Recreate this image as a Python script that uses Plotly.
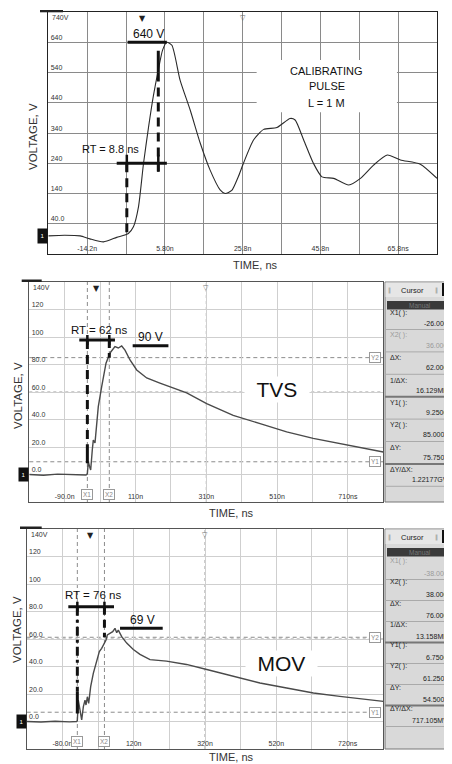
import plotly.graph_objects as go

# The page body keeps its default 8px margin, so the figure is sized to fill the
# remaining 444x756 area of the 452x764 window; PAGE_* are window pixel positions.
PAGE_OFF = 8
W, H = 452 - PAGE_OFF, 764 - PAGE_OFF
FONT = "Liberation Sans, Arial, sans-serif"

# ---------------- Panel 1: calibrating pulse ----------------
cal_t = [-24.2, -20.0, -16.0, -13.5, -10.0, -6.6, -3.6, -2.3, -1.0, 0.3, 1.6, 2.8, 4.1, 5.2,
         6.3, 7.6, 9.7, 12.3, 14.9, 17.4, 20.0, 21.3, 23.0, 24.7, 26.0, 28.6, 31.2, 34.6,
         38.0, 39.3, 41.5, 44.0, 46.2, 49.2, 53.1, 56.1, 59.5, 63.0, 66.4, 71.5, 75.8]
cal_v = [0, 2, 0, -10, -20, -5, 8, 30, 96, 240, 360, 460, 548, 614,
         640, 630, 515, 416, 306, 218, 152, 140, 150, 196, 240, 317, 352, 358,
         388, 383, 317, 240, 195, 190, 168, 190, 234, 267, 251, 237, 190]
cal_x_grid = [-24.2, -14.2, -4.2, 5.8, 15.8, 25.8, 35.8, 45.8, 55.8, 65.8, 75.8]
cal_x_text = ["", "-14.2n", "", "5.80n", "", "25.8n", "", "45.8n", "", "65.8ns", ""]
cal_y_grid = [-60, 40, 140, 240, 340, 440, 540, 640, 740]
cal_y_text = ["", "40.0", "140", "240", "340", "440", "540", "640", ""]
cal_y_top = "740V"
cal_peak = 640
cal_rt = 8.8
cal_t10, cal_t90 = -4.0, 4.1       # rise-time marker positions
cal_label_lines = ["CALIBRATING", "PULSE", "L = 1 M"]

# ---------------- Panel 2: TVS ----------------
tvs_t = [-190, -150, -110, -70, -30, -26, -23.3, -20, -16.6, -12, -9.2, -4.4, 4.9, 14.5,
         26.7, 38, 52, 61.4, 71, 80.3, 94.5, 113.4, 141.6, 179, 207, 254.6, 311, 386,
         462, 537, 612, 688, 744, 810]
tvs_v = [0, -0.5, 0.3, -0.3, -0.4, 0.5, 9.3, 6, 3.3, 18, 25, 23, 49.3, 63.9,
         81, 88.4, 93, 92, 93.5, 90.5, 83.3, 76, 70.2, 66.5, 63.9, 59.3, 51.5, 43,
         37, 31, 26.3, 22.4, 19.5, 16.4]
tvs_x_grid = [-190, -90, 10, 110, 210, 310, 410, 510, 610, 710, 810]
tvs_x_text = ["", "-90.0n", "", "110n", "", "310n", "", "510n", "", "710ns", ""]
tvs_cursor_x = [-26.0, 36.0]
tvs_cursor_y = [9.25, 85.0]
tvs_peak = 90
tvs_values = ["-26.000", "36.000", "62.000", "16.129MH", "9.2500", "85.0000", "75.7500", "1.22177GV"]

# ---------------- Panel 3: MOV ----------------
mov_t = [-180, -140, -100, -60, -40, -38, -35.3, -30.5, -25.8, -21.1, -16.5, -13.7, -9.9, -6.2,
         -0.6, 6.8, 16.2, 23.7, 30.2, 36.8, 42.4, 46.1, 53.6, 61.2, 67.6, 72.4, 76.9, 86.4,
         100.4, 119, 137.7, 165.8, 212, 268, 325, 399, 474, 549, 624, 698, 755, 820]
mov_v = [0, -0.4, 0.2, -0.3, 0, 0.5, 15.6, 8.3, 1.1, 10.8, 15.6, 12, 18, 13.2,
         25.3, 35, 44.7, 50.8, 53.2, 56.9, 59.3, 62.9, 64.1, 65.3, 67.8, 64.6, 66.5, 61.7,
         57, 52.4, 48.8, 45, 43.9, 41.5, 37.8, 33, 28, 24.4, 20.7, 18.3, 16.6, 14.6]
mov_x_grid = [-180, -80, 20, 120, 220, 320, 420, 520, 620, 720, 820]
mov_x_text = ["", "-80.0n", "", "120n", "", "320n", "", "520n", "", "720ns", ""]
mov_cursor_x = [-38.0, 38.0]
mov_cursor_y = [6.75, 61.25]
mov_peak = 69
mov_values = ["-38.000", "38.000", "76.000", "13.158MH", "6.7500", "61.2500", "54.5000", "717.105MV"]

scope_y_grid = [-20, 0, 20, 40, 60, 80, 100, 120, 140]
scope_y_text = ["", "0.0", "20.0", "40.0", "60.0", "80.0", "100", "120", ""]
scope_y_top = "140V"
cursor_labels = ["X1( ):", "X2( ):", "\u0394X:", "1/\u0394X:", "Y1( ):", "Y2( ):", "\u0394Y:", "\u0394Y/\u0394X:"]


def px(x):
    return (x - PAGE_OFF) / W


def py(y):
    return 1 - (y - PAGE_OFF) / H


fig = go.Figure()
fig.add_trace(go.Scatter(x=cal_t, y=cal_v, xaxis="x", yaxis="y", mode="lines",
                         line=dict(color="#2a2a2a", width=1.1, shape="spline", smoothing=0.6),
                         hoverinfo="skip", showlegend=False))
fig.add_trace(go.Scatter(x=tvs_t, y=tvs_v, xaxis="x2", yaxis="y2", mode="lines",
                         line=dict(color="#4a4a4a", width=1.4), hoverinfo="skip", showlegend=False))
fig.add_trace(go.Scatter(x=mov_t, y=mov_v, xaxis="x3", yaxis="y3", mode="lines",
                         line=dict(color="#4a4a4a", width=1.4), hoverinfo="skip", showlegend=False))


def xax(domain, vals, text, anchor, grid, line):
    return dict(domain=domain, range=[vals[0], vals[-1]], tickvals=vals, ticktext=text,
                ticklabelposition="inside", ticks="", showgrid=True, gridcolor=grid, gridwidth=1,
                zeroline=False, showline=True, mirror=True, linecolor=line, linewidth=1.3,
                tickfont=dict(size=7, color="#333", family=FONT), anchor=anchor, fixedrange=True)


def yax(domain, vals, text, anchor, grid, line):
    return dict(domain=domain, range=[vals[0], vals[-1]], tickvals=vals, ticktext=text,
                ticklabelposition="inside top", ticks="", showgrid=True, gridcolor=grid, gridwidth=1,
                zeroline=False, showline=True, mirror=True, linecolor=line, linewidth=1.3,
                tickfont=dict(size=7, color="#333", family=FONT), anchor=anchor, fixedrange=True)


d1x, d1y = [px(48.3), px(437)], [py(254), py(12)]
d2x, d2y = [px(29.3), px(383.3)], [py(502), py(282)]
d3x, d3y = [px(26.7), px(383.3)], [py(749), py(529)]

fig.update_layout(
    width=W, height=H, margin=dict(l=0, r=0, t=0, b=0),
    paper_bgcolor="white", plot_bgcolor="white", showlegend=False,
    font=dict(family=FONT, color="#222"),
    xaxis=xax(d1x, cal_x_grid, cal_x_text, "y", "#8a8a8a", "#222"),
    yaxis=yax(d1y, cal_y_grid, cal_y_text, "x", "#8a8a8a", "#222"),
    xaxis2=xax(d2x, tvs_x_grid, tvs_x_text, "y2", "#cfcfcf", "#555"),
    yaxis2=yax(d2y, scope_y_grid, scope_y_text, "x2", "#cfcfcf", "#555"),
    xaxis3=xax(d3x, mov_x_grid, mov_x_text, "y3", "#cfcfcf", "#555"),
    yaxis3=yax(d3y, scope_y_grid, scope_y_text, "x3", "#cfcfcf", "#555"),
)

shapes = []
ann = []


def ax_names(n):
    return ("x", "y") if n == 1 else (f"x{n}", f"y{n}")


def seg(n, x0, y0, x1, y1, width=3, dash="solid", color="#111"):
    sx, sy = ax_names(n)
    shapes.append(dict(type="line", xref=sx, yref=sy, x0=x0, y0=y0, x1=x1, y1=y1,
                       line=dict(color=color, width=width, dash=dash), layer="above"))


def vline_full(n, x, color, dash, width=1):
    sx, sy = ax_names(n)
    shapes.append(dict(type="line", xref=sx, yref=f"{sy} domain", x0=x, x1=x, y0=0, y1=1,
                       line=dict(color=color, width=width, dash=dash), layer="below"))


def hline_full(n, y, color, dash, width=1):
    sx, sy = ax_names(n)
    shapes.append(dict(type="line", xref=f"{sx} domain", yref=sy, x0=0, x1=1, y0=y, y1=y,
                       line=dict(color=color, width=width, dash=dash), layer="below"))


def text(n, x, y, s, size=11, **kw):
    sx, sy = ax_names(n)
    d = dict(xref=sx, yref=sy, x=x, y=y, text=s, showarrow=False, xanchor="center", yanchor="middle",
             font=dict(size=size, color="#111", family=FONT))
    d.update(kw)
    ann.append(d)


def ptext(x, y, s, size=11, **kw):
    d = dict(xref="paper", yref="paper", x=px(x), y=py(y), text=s, showarrow=False,
             xanchor="center", yanchor="middle",
             font=dict(size=size, color="#333", family=FONT))
    d.update(kw)
    ann.append(d)


def prect(x0, y0, x1, y1, fill, line=None, lw=0):
    shapes.append(dict(type="rect", xref="paper", yref="paper", x0=px(x0), x1=px(x1),
                       y0=py(y1), y1=py(y0), fillcolor=fill,
                       line=dict(color=line or fill, width=lw), layer="above"))


def pline(x0, y0, x1, y1, color, width=1):
    shapes.append(dict(type="line", xref="paper", yref="paper", x0=px(x0), x1=px(x1),
                       y0=py(y0), y1=py(y1), line=dict(color=color, width=width), layer="above"))


# ---------- Panel 1 annotations ----------
shapes.append(dict(type="rect", xref="x", yref="y", x0=29.4, x1=65.5, y0=409, y1=581,
                   fillcolor="white", line=dict(width=0), layer="above"))
seg(1, -3.8, cal_peak, 6.3, cal_peak, 3)
seg(1, -6.6, 240, 6.3, 240, 3)
seg(1, cal_t10, 212, cal_t10, 268, 2.5)
seg(1, cal_t90, 212, cal_t90, 268, 2.5)
seg(1, cal_t10, 240, cal_t10, 5, 3, dash="9px,6px")
seg(1, cal_t90, 612, cal_t90, 540, 3)
seg(1, cal_t90, 540, cal_t90, 212, 3, dash="9px,6px")
text(1, 1.5, 667, f"{cal_peak} V", 12)
text(1, -8.3, 287, f"RT = {cal_rt} ns", 11)
for s, v in zip(cal_label_lines, [546, 495, 440]):
    text(1, 47.4, v, s, 11)
text(1, 0, 740, "\u25BC", 8, yanchor="top", font=dict(size=8, color="#222", family="DejaVu Sans"))
text(1, 25.8, 740, "\u25BD", 7, yanchor="top", font=dict(size=7, color="#666", family="DejaVu Sans"))
ann.append(dict(xref="x domain", yref="y", x=0, y=cal_y_grid[-1], text=cal_y_top, showarrow=False,
                xanchor="left", yanchor="top", xshift=2, font=dict(size=7, color="#333", family=FONT)))
ann.append(dict(xref="x domain", yref="y", x=0, y=0, text="1", showarrow=False, xanchor="right",
                yanchor="middle", bgcolor="#111", width=7, height=12,
                font=dict(size=6, color="white", family=FONT)))
prect(40, 10, 63, 12.3, "#222")
ptext(33, 137, "VOLTAGE, V", 11.5, textangle=-90)
ptext(255, 265, "TIME, ns", 11)


# ---------- Scope panels (TVS, MOV) ----------
def scope_panel(n, cx, cy, peak, rt_bar, peak_bar, rt_pos, pk_pos, name, name_pos, low_dash,
                trig_center, top, pitch, val_off, values, grey_idx, label_off):
    sx, sy = ax_names(n)
    vline_full(n, trig_center, "#9a9a9a", "dot")
    hline_full(n, 60, "#9a9a9a", "dot")
    for x in cx:
        vline_full(n, x, "#8c8c8c", "4px,3px")
    for y in cy:
        hline_full(n, y, "#8c8c8c", "4px,3px")
    yb, xl, xr = rt_bar
    seg(n, xl, yb, xr, yb, 3)
    for x in cx:
        seg(n, x, yb - 3.6, x, yb + 3.6, 2.5)
    seg(n, cx[0], yb, cx[0], 22, 3, dash=low_dash)
    seg(n, cx[0], 22, cx[0], cy[0] - 1, 3)
    seg(n, cx[1], yb, cx[1], cy[1], 3, dash="8px,5px")
    yp, xpl, xpr = peak_bar
    seg(n, xpl, yp, xpr, yp, 3)
    text(n, rt_pos[0], rt_pos[1], f"RT = {cx[1] - cx[0]:.0f} ns", 11.5)
    text(n, pk_pos[0], pk_pos[1], f"{peak} V", 12)
    text(n, name_pos[0], name_pos[1], "\u2002" + name + "\u2002", 21, bgcolor="white", borderpad=1)
    text(n, 0, 140, "\u25BC", 8, yanchor="top", font=dict(size=8, color="#222", family="DejaVu Sans"))
    text(n, trig_center, 140, "\u25BD", 7, yanchor="top",
         font=dict(size=7, color="#777", family="DejaVu Sans"))
    ann.append(dict(xref=f"{sx} domain", yref=sy, x=0, y=140, text=scope_y_top, showarrow=False,
                    xanchor="left", yanchor="top", xshift=2, font=dict(size=7, color="#333", family=FONT)))
    ann.append(dict(xref=f"{sx} domain", yref=sy, x=0, y=0, text="1", showarrow=False,
                    xanchor="right", yanchor="middle", bgcolor="#111", width=7, height=11,
                    font=dict(size=6, color="white", family=FONT)))
    for i, x in enumerate(cx):
        ann.append(dict(xref=sx, yref=f"{sy} domain", x=x, y=0, text=f"X{i + 1}", showarrow=False,
                        xanchor="center", yanchor="bottom", yshift=2, bgcolor="white",
                        bordercolor="#999", borderwidth=1, borderpad=1,
                        font=dict(size=6.5, color="#888", family=FONT)))
    for i, y in enumerate(cy):
        ann.append(dict(xref=f"{sx} domain", yref=sy, x=1, y=y, text=f"Y{i + 1}", showarrow=False,
                        xanchor="right", yanchor="middle", xshift=-2, bgcolor="white",
                        bordercolor="#999", borderwidth=1, borderpad=1,
                        font=dict(size=6.5, color="#888", family=FONT)))
    # cursor read-out panel
    bottom = top + 220
    prect(385, top, 452, bottom, "#d9d9d9", "#777", 1)
    prect(385.5, top + 0.5, 452, top + 15, "#e6e6e6")
    prect(442, top + 1, 452, top + 14, "#111")
    ptext(412, top + 8, "Cursor", 7.5, font=dict(size=7.5, color="#222", family=FONT))
    ptext(389, top + 8, "\u2016", 6, font=dict(size=6, color="#888", family="DejaVu Sans"))
    ptext(436, top + 8, "\u2016", 6, font=dict(size=6, color="#888", family="DejaVu Sans"))
    prect(387, top + 19, 452, top + 27.5, "#3a3a3a")
    ptext(420, top + 23.2, "Manual", 6.5, font=dict(size=6.5, color="#777", family=FONT))
    for k, (lab, val) in enumerate(zip(cursor_labels, values)):
        yl = top + label_off + pitch * k
        col = "#999" if k == grey_idx else "#222"
        ptext(388, yl, lab, 7, xanchor="left", font=dict(size=7, color=col, family=FONT))
        ptext(450, yl + val_off, val, 7, xanchor="right", font=dict(size=7, color=col, family=FONT))
        ysep = yl + val_off + 6.5
        pline(385, ysep, 452, ysep, "#777" if k in (3, 6) else "#aaa", 2 if k in (3, 6) else 1)


scope_panel(2, tvs_cursor_x, tvs_cursor_y, tvs_peak, (97.8, -48.8, 52), (93.7, 102, 203),
            (6.3, 105), (151, 99.8), "TVS", (508.8, 61.5), "9px,6px", 310,
            282, 22.4, 10, tvs_values, 1, 31)
scope_panel(3, mov_cursor_x, mov_cursor_y, mov_peak, (83.5, -63.3, 64.8), (67.8, 81.7, 201.4),
            (5.1, 92), (145.3, 73.8), "MOV", (535, 42), "9px,4px,3px,4px", 320,
            529, 21, 12, mov_values, 0, 32)

prect(21.7, 279.5, 41.7, 282, "#222")
prect(20, 526.5, 41.7, 529, "#222")
ptext(18, 396, "VOLTAGE, V", 11.5, textangle=-90)
ptext(232, 513, "TIME, ns", 11)
ptext(17, 630, "VOLTAGE, V", 11.5, textangle=-90)
ptext(231, 757, "TIME, ns", 11)

fig.update_layout(shapes=shapes, annotations=ann)
fig.write_html("out.html")
